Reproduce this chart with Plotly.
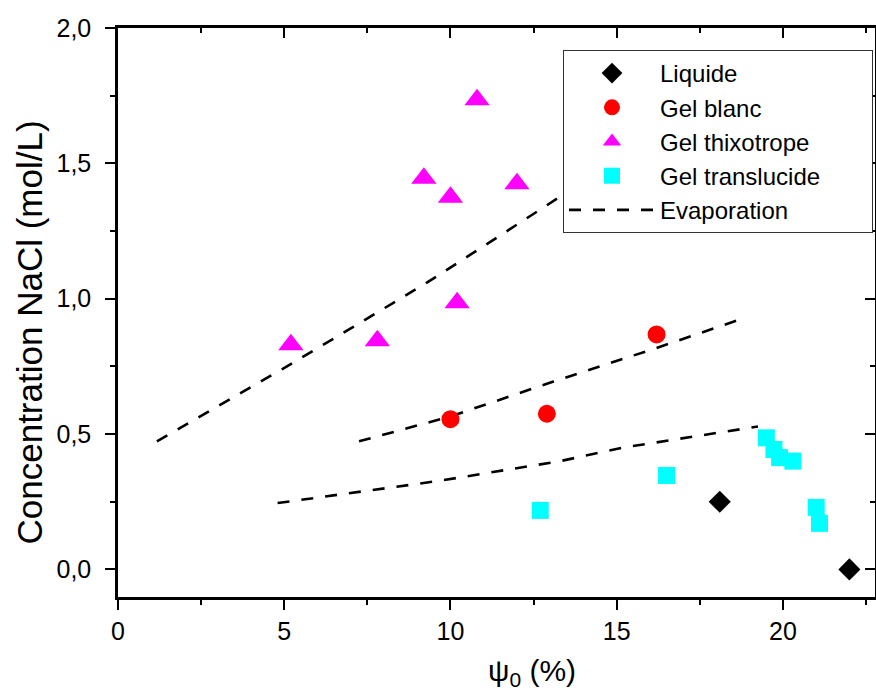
import plotly.graph_objects as go

# ---- data ----
liq_x = [18.1, 22.0]
liq_y = [0.25, 0.0]

blanc_x = [10.0, 12.9, 16.2]
blanc_y = [0.555, 0.575, 0.868]

thixo_x = [5.2, 7.8, 9.2, 10.0, 10.2, 10.8, 12.0]
thixo_y = [0.83, 0.845, 1.445, 1.375, 0.985, 1.735, 1.425]

trans_x = [12.7, 16.5, 19.5, 19.73, 19.9, 20.3, 21.0, 21.1]
trans_y = [0.218, 0.347, 0.486, 0.443, 0.413, 0.40, 0.229, 0.17]

evap1_x = [1.17, 3.0, 4.93, 7.0, 9.3, 11.5, 13.4, 15.5]
evap1_y = [0.473, 0.602, 0.739, 0.89, 1.06, 1.234, 1.385, 1.56]
evap2_x = [7.25, 10.0, 13.1, 16.15, 18.7]
evap2_y = [0.473, 0.565, 0.694, 0.816, 0.923]
evap3_x = [4.8, 7.0, 9.6, 13.3, 15.2, 19.25]
evap3_y = [0.245, 0.283, 0.326, 0.40, 0.45, 0.528]

x_ticks = [0, 5, 10, 15, 20]
y_ticks = [0.0, 0.5, 1.0, 1.5, 2.0]

FONT = "Liberation Sans, Arial, sans-serif"
PAD = "\u00a0" * 7

ev_x = evap1_x + [None] + evap2_x + [None] + evap3_x
ev_y = evap1_y + [None] + evap2_y + [None] + evap3_y

fig = go.Figure()
fig.add_trace(go.Scatter(x=ev_x, y=ev_y, mode="lines", name="Evaporation",
                         line=dict(color="black", width=2.6, dash="12px,12px"),
                         legendrank=5))
fig.add_trace(go.Scatter(x=liq_x, y=liq_y, mode="markers", name="Liquide",
                         marker=dict(symbol="diamond", size=17, color="black"),
                         legendrank=1))
fig.add_trace(go.Scatter(x=blanc_x, y=blanc_y, mode="markers", name="Gel blanc",
                         marker=dict(symbol="circle", size=18, color="#FF0000"),
                         legendrank=2))
fig.add_trace(go.Scatter(x=thixo_x, y=thixo_y, mode="markers", name="Gel thixotrope",
                         marker=dict(symbol="triangle-up", size=22, color="#FF00FF"),
                         legendrank=3))
fig.add_trace(go.Scatter(x=trans_x, y=trans_y, mode="markers", name="Gel translucide" + PAD,
                         marker=dict(symbol="square", size=17, color="#00FFFF"),
                         legendrank=4))
# empty helper trace so the mirrored (inside-tick) axes are drawn
fig.add_trace(go.Scatter(x=[], y=[], xaxis="x2", yaxis="y2", showlegend=False,
                         hoverinfo="skip"))

XR = [0, 22.77]
YR = [-0.102, 2.0]

W, H = 876, 693
L, T, R, B = 118, 28, 1, 96
PW = W - L - R
PH = H - T - B


def px(xpix):
    return (xpix - L) / PW


def py(ypix):
    return (H - B - ypix) / PH


fig.update_layout(
    width=W, height=H,
    margin=dict(l=L, r=R, t=T, b=B, autoexpand=False),
    paper_bgcolor="white", plot_bgcolor="white",
    separators=", ",
    font=dict(family=FONT, size=25, color="black"),
    showlegend=True,
    legend=dict(x=px(563), y=py(50), xanchor="left", yanchor="top",
                bgcolor="white", bordercolor="#333333", borderwidth=1,
                font=dict(family=FONT, size=24, color="black"),
                itemwidth=86, tracegroupgap=0),
    xaxis=dict(range=XR, tickvals=x_ticks, ticks="outside", ticklen=10, tickwidth=2,
               tickcolor="black", showline=True, linecolor="black", linewidth=2.5,
               mirror=True, showgrid=False, zeroline=False, automargin=False,
               minor=dict(dtick=2.5, tick0=0, ticks="outside", ticklen=5, tickwidth=2,
                          tickcolor="black", showgrid=False),
               tickfont=dict(family=FONT, size=25)),
    yaxis=dict(range=YR, tickvals=y_ticks, tickformat=".1f", ticks="outside", ticklen=10,
               tickwidth=2, tickcolor="black", showline=True, linecolor="black",
               linewidth=2.5, mirror=True, showgrid=False, zeroline=False, automargin=False,
               ticklabelstandoff=9,
               minor=dict(dtick=0.25, tick0=0, ticks="outside", ticklen=5, tickwidth=2,
                          tickcolor="black", showgrid=False),
               tickfont=dict(family=FONT, size=25)),
    xaxis2=dict(range=XR, overlaying="x", side="top", anchor="y2", tickvals=x_ticks,
                ticks="inside", ticklen=10, tickwidth=2, tickcolor="black",
                showticklabels=False, showline=False, showgrid=False, zeroline=False,
                automargin=False,
                minor=dict(dtick=2.5, tick0=0, ticks="inside", ticklen=5, tickwidth=2,
                           tickcolor="black", showgrid=False)),
    yaxis2=dict(range=YR, overlaying="y", side="right", anchor="x2", tickvals=y_ticks,
                ticks="inside", ticklen=10, tickwidth=2, tickcolor="black",
                showticklabels=False, showline=False, showgrid=False, zeroline=False,
                automargin=False,
                minor=dict(dtick=0.25, tick0=0, ticks="inside", ticklen=5, tickwidth=2,
                           tickcolor="black", showgrid=False)),
    annotations=[
        dict(text="Concentration NaCl (mol/L)", xref="paper", yref="paper",
             x=px(28.5), y=py(333), xanchor="center", yanchor="middle",
             textangle=-90, showarrow=False, font=dict(family=FONT, size=35, color="black")),
        dict(text="ψ<sub>0</sub> (%)", xref="paper", yref="paper",
             x=px(532), y=py(652), xanchor="center", yanchor="top",
             showarrow=False, font=dict(family=FONT, size=30, color="black")),
    ],
)

fig.write_html(
    "out.html",
    config={"displayModeBar": False},
    post_script="document.body.style.margin='0';document.body.style.overflow='hidden';"
                "document.documentElement.style.overflow='hidden';",
)
